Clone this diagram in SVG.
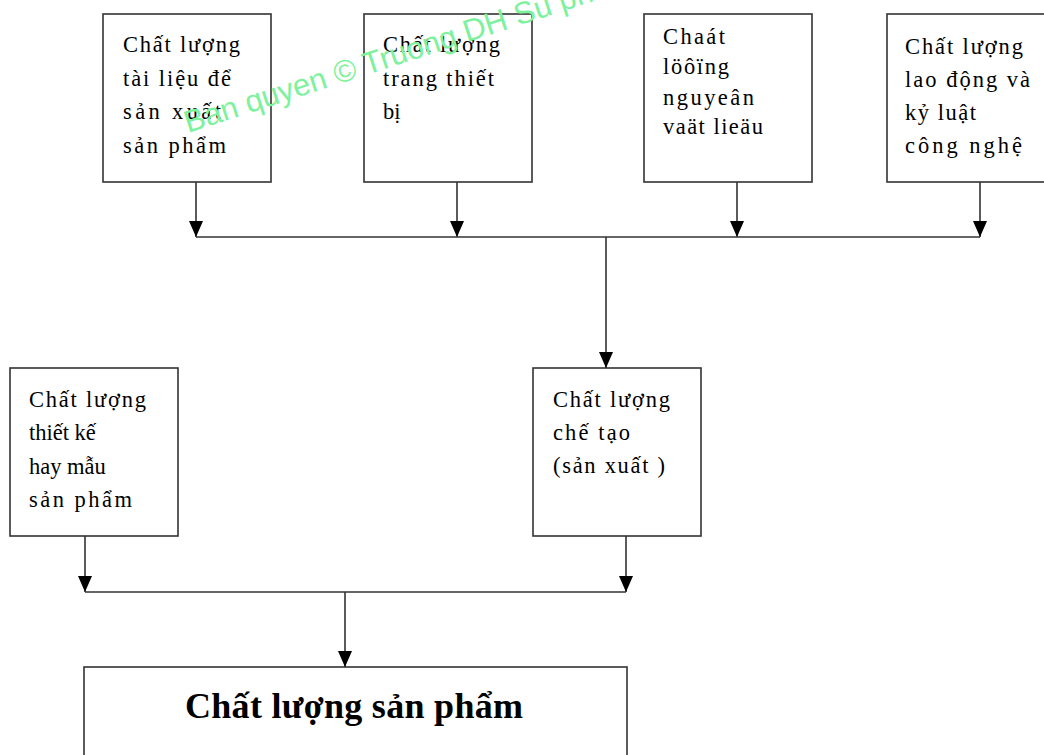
<svg xmlns="http://www.w3.org/2000/svg" width="1044" height="755" viewBox="0 0 1044 755">
<style>
.box{fill:#fff;stroke:#333;stroke-width:1.6}
.t{font-family:"Liberation Serif","Times New Roman",serif;font-size:22.5px;fill:#000}
.big{font-family:"Liberation Serif","Times New Roman",serif;font-size:36px;font-weight:bold;fill:#000}
.ln{stroke:#333;stroke-width:1.6;fill:none}
.wm{font-family:"Liberation Sans",Arial,sans-serif;font-size:31px;fill:#7cf29c}
</style>
<defs>
<marker id="ah" markerUnits="userSpaceOnUse" markerWidth="16" markerHeight="14" refX="16" refY="7" orient="auto" viewBox="0 0 16 14">
<path d="M0,0 L16,7 L0,14 Z" fill="#000"/>
</marker>
</defs>
<rect width="1044" height="755" fill="#fff"/>
<g id="n1">
<rect class="box" x="103" y="14" width="168" height="168"/>
<text class="t"><tspan x="123" y="52" textLength="117" lengthAdjust="spacing">Chất lượng</tspan><tspan x="123" y="86" textLength="108" lengthAdjust="spacing">tài liệu để</tspan><tspan x="123" y="119" textLength="98" lengthAdjust="spacing">sản xuất</tspan><tspan x="123" y="153" textLength="103" lengthAdjust="spacing">sản phẩm</tspan></text>
</g>
<g id="n2">
<rect class="box" x="364" y="14" width="168" height="168"/>
<text class="t"><tspan x="383" y="52" textLength="117" lengthAdjust="spacing">Chất lượng</tspan><tspan x="383" y="86" textLength="111" lengthAdjust="spacing">trang thiết</tspan><tspan x="383" y="119">bị</tspan></text>
</g>
<g id="n3">
<rect class="box" x="644" y="14" width="168" height="168"/>
<text class="t"><tspan x="663" y="44" textLength="62" lengthAdjust="spacing">Chaát</tspan><tspan x="663" y="74" textLength="66" lengthAdjust="spacing">löôïng</tspan><tspan x="663" y="105" textLength="91" lengthAdjust="spacing">nguyeân</tspan><tspan x="663" y="134" textLength="100" lengthAdjust="spacing">vaät lieäu</tspan></text>
</g>
<g id="n4">
<rect class="box" x="887" y="14" width="168" height="168"/>
<text class="t"><tspan x="905" y="54" textLength="118" lengthAdjust="spacing">Chất lượng</tspan><tspan x="905" y="87" textLength="125" lengthAdjust="spacing">lao động và</tspan><tspan x="905" y="120" textLength="71" lengthAdjust="spacing">kỷ luật</tspan><tspan x="905" y="153" textLength="117" lengthAdjust="spacing">công nghệ</tspan></text>
</g>
<g id="n5">
<rect class="box" x="10" y="368" width="168" height="168"/>
<text class="t"><tspan x="29" y="407" textLength="117" lengthAdjust="spacing">Chất lượng</tspan><tspan x="29" y="440">thiết kế</tspan><tspan x="29" y="474">hay mẫu</tspan><tspan x="29" y="507" textLength="103" lengthAdjust="spacing">sản phẩm</tspan></text>
</g>
<g id="n6">
<rect class="box" x="533" y="368" width="168" height="168"/>
<text class="t"><tspan x="553" y="407" textLength="117" lengthAdjust="spacing">Chất lượng</tspan><tspan x="553" y="440" textLength="77" lengthAdjust="spacing">chế tạo</tspan><tspan x="553" y="473" textLength="112" lengthAdjust="spacing">(sản xuất )</tspan></text>
</g>
<g id="n7">
<rect class="box" x="84" y="667" width="543" height="100"/>
<text class="big" x="185" y="718" textLength="338" lengthAdjust="spacing">Chất lượng sản phẩm</text>
</g>
<g id="connectors">
<line class="ln" x1="196" y1="182" x2="196" y2="237" marker-end="url(#ah)"/>
<line class="ln" x1="457" y1="182" x2="457" y2="237" marker-end="url(#ah)"/>
<line class="ln" x1="737" y1="182" x2="737" y2="237" marker-end="url(#ah)"/>
<line class="ln" x1="980" y1="182" x2="980" y2="237" marker-end="url(#ah)"/>
<line class="ln" x1="196" y1="237" x2="980" y2="237"/>
<line class="ln" x1="606" y1="237" x2="606" y2="368" marker-end="url(#ah)"/>
<line class="ln" x1="85" y1="536" x2="85" y2="592" marker-end="url(#ah)"/>
<line class="ln" x1="626" y1="536" x2="626" y2="592" marker-end="url(#ah)"/>
<line class="ln" x1="85" y1="592" x2="626" y2="592"/>
<line class="ln" x1="345" y1="592" x2="345" y2="667" marker-end="url(#ah)"/>
</g>
<text class="wm" x="188" y="133" transform="rotate(-18 188 133)">Ban quyen © Truong DH Su pham</text>
</svg>
